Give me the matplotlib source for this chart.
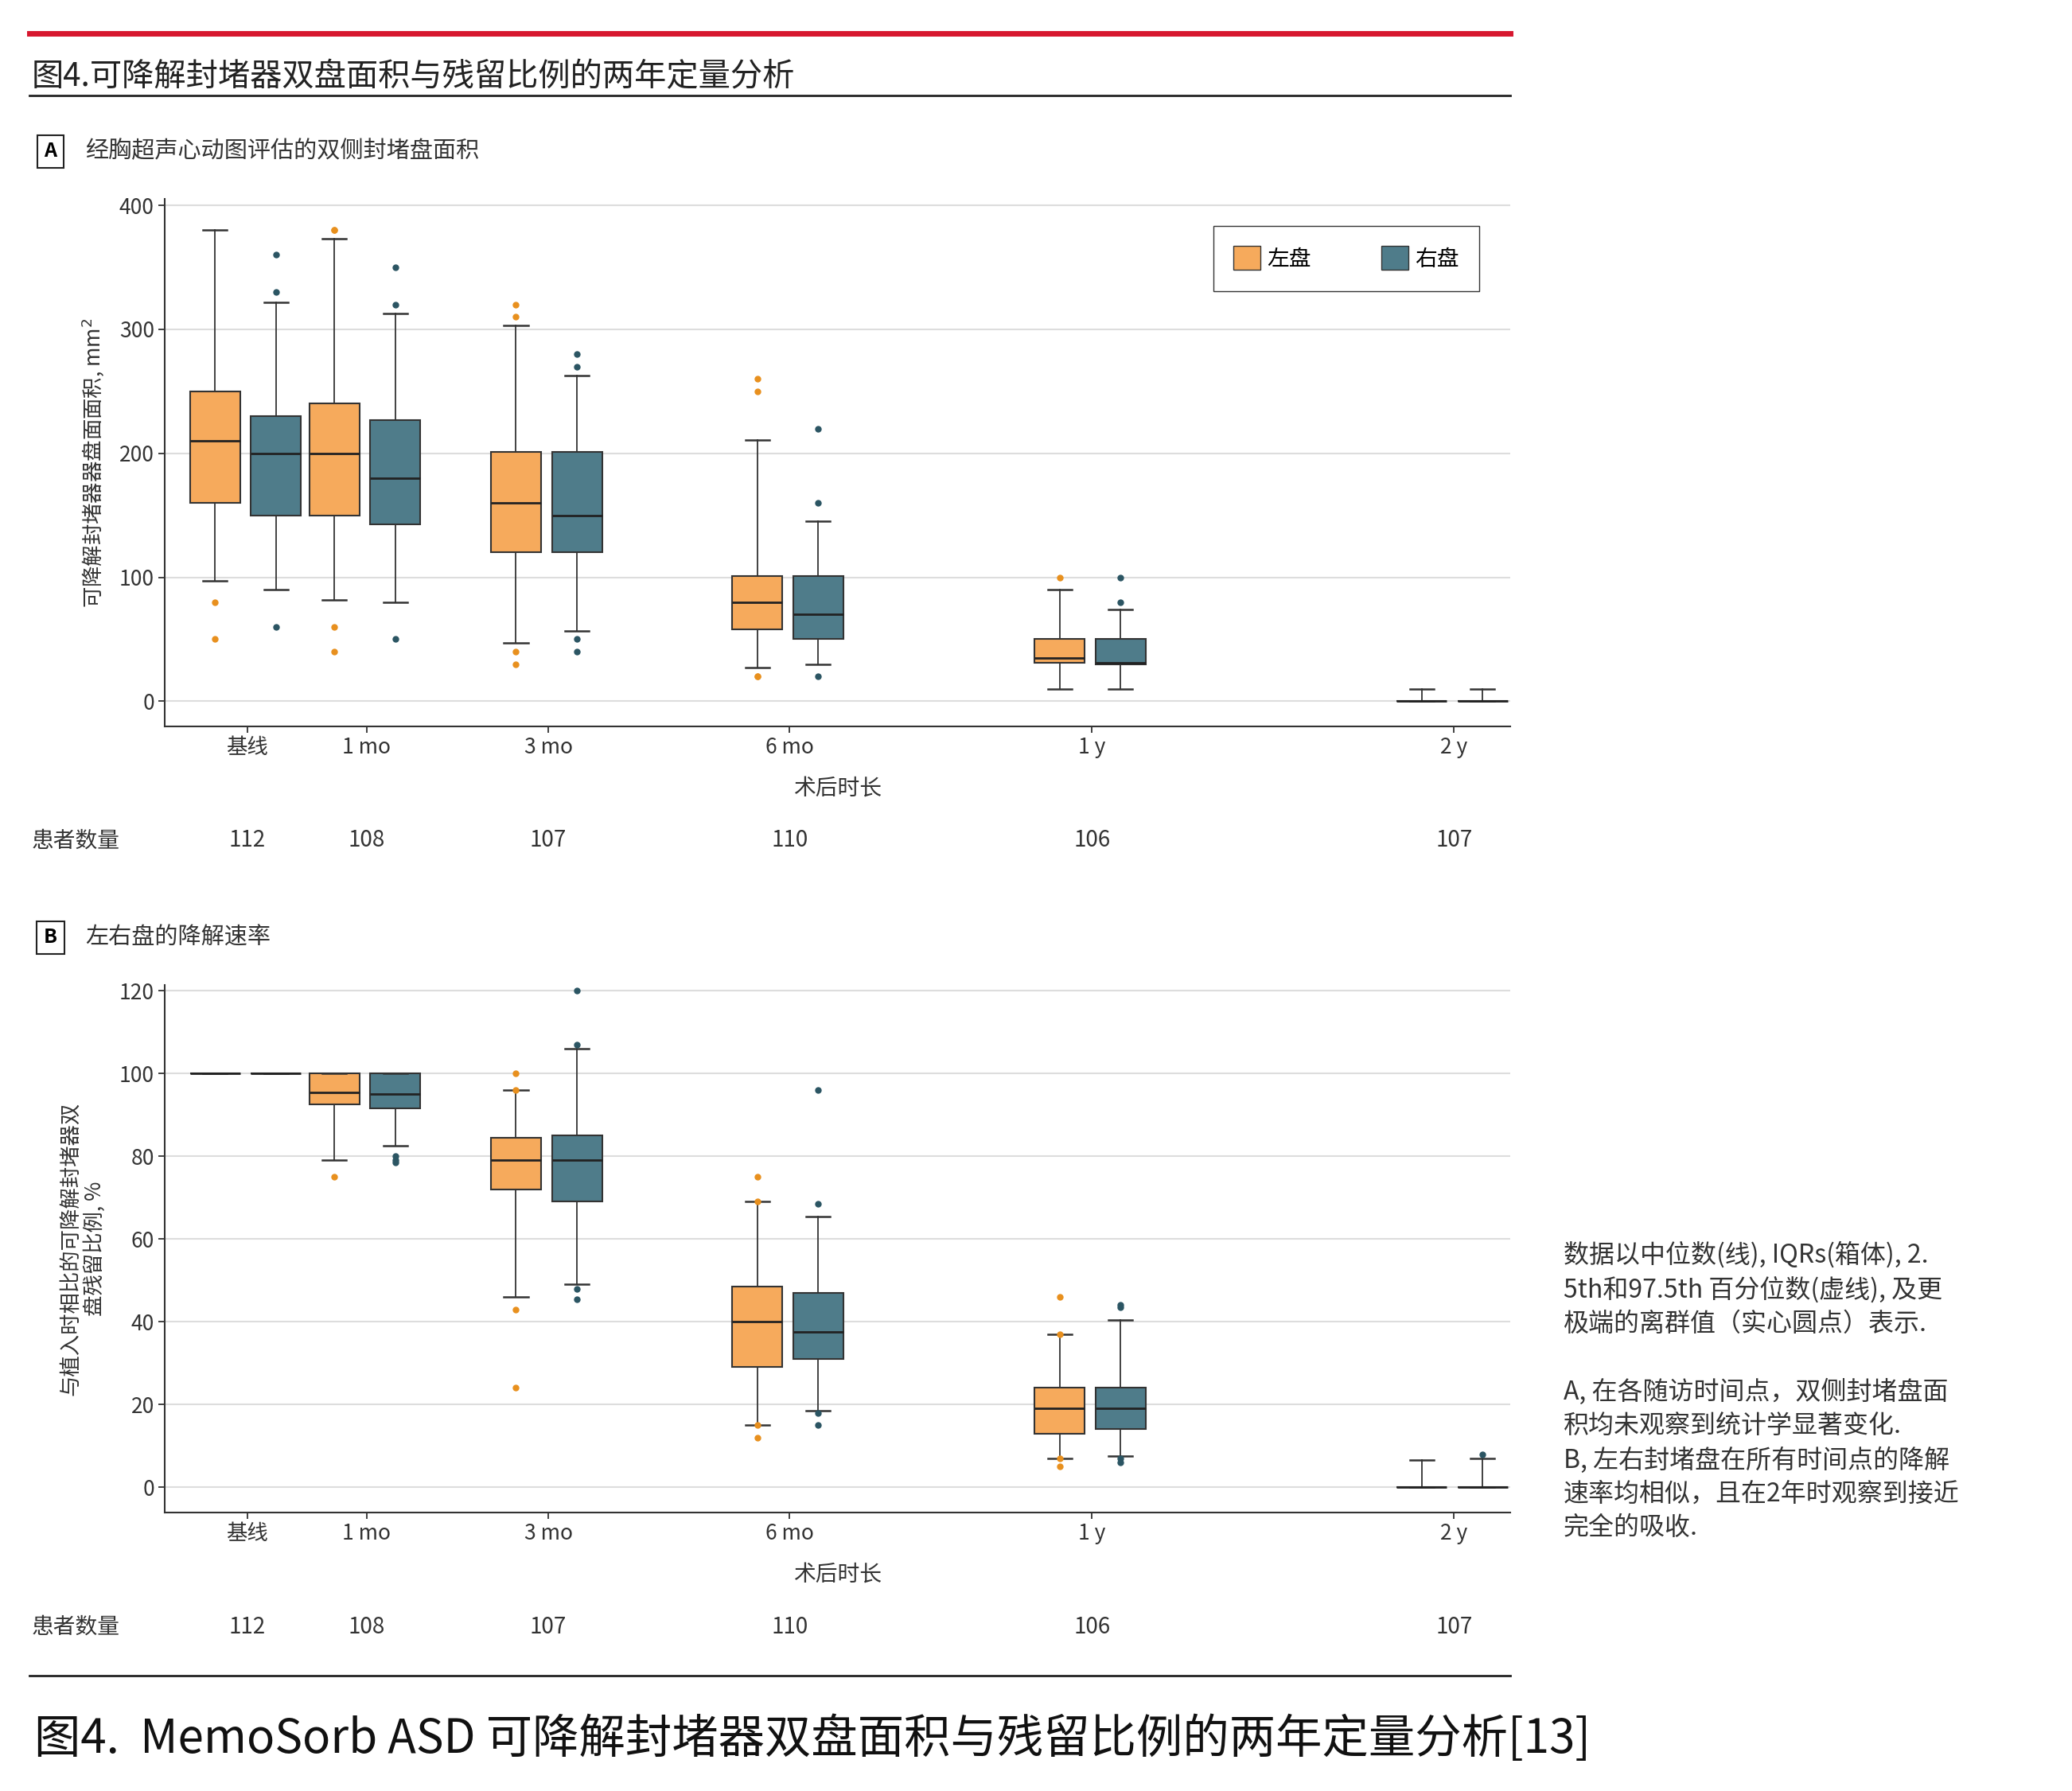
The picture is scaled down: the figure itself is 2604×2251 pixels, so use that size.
import matplotlib.pyplot as plt
from matplotlib.patches import Patch
from matplotlib.lines import Line2D

plt.rcParams['font.family'] = ['Noto Sans CJK SC', 'DejaVu Sans']

W, H = 1560.0, 1348.7  # layout units (reference scaled)

def fx(x):
    return x / W

def fy(y):
    return 1 - y / H

timepoints = ['基线', '1 mo', '3 mo', '6 mo', '1 y', '2 y']
patients = [112, 108, 107, 110, 106, 107]
xpos = [0, 1, 2.52, 4.54, 7.07, 10.1]

# (q1, med, q3, whislo, whishi, fliers)
area_left = [
    (160, 210, 250, 97, 380, [80, 50]),
    (150, 200, 240, 82, 373, [380, 380, 60, 40]),
    (120, 160, 201, 47, 303, [320, 310, 40, 30]),
    (58, 80, 101, 27, 211, [260, 250, 20, 20]),
    (31, 35, 50, 10, 90, [100]),
    (0, 0, 0, 0, 10, []),
]
area_right = [
    (150, 200, 230, 90, 322, [360, 330, 60]),
    (143, 180, 227, 80, 313, [350, 320, 50]),
    (120, 150, 201, 57, 263, [280, 270, 50, 40]),
    (50, 70, 101, 30, 145, [220, 160, 20]),
    (30, 31, 50, 10, 74, [100, 80]),
    (0, 0, 0, 0, 10, []),
]
pct_left = [
    (100, 100, 100, 100, 100, []),
    (92.5, 95.5, 100, 79, 100, [75]),
    (72, 79, 84.5, 46, 96, [100, 96, 43, 24]),
    (29, 40, 48.5, 15, 69, [75, 69, 15, 12]),
    (13, 19, 24, 7, 37, [46, 37, 7, 5]),
    (0, 0, 0, 0, 6.5, []),
]
pct_right = [
    (100, 100, 100, 100, 100, []),
    (91.5, 95, 100, 82.5, 100, [80, 79, 78.5]),
    (69, 79, 85, 49, 106, [120, 107, 48, 45.5]),
    (31, 37.5, 47, 18.5, 65.5, [96, 68.5, 18, 15]),
    (14, 19, 24, 7.5, 40.5, [44, 43.5, 7, 6]),
    (0, 0, 0, 0, 7, [8]),
]

ORANGE, TEAL = '#F6AA5C', '#4F7C8A'
ORANGE_PT, TEAL_PT = '#E8901E', '#2B5563'


def to_stats(rows):
    return [dict(q1=a, med=b, q3=c, whislo=d, whishi=e, fliers=f) for a, b, c, d, e, f in rows]


def draw_panel(ax, left, right, ylim, yticks):
    for rows, off, face, pt in [(left, -0.27, ORANGE, ORANGE_PT), (right, 0.24, TEAL, TEAL_PT)]:
        ax.bxp(to_stats(rows), positions=[p + off for p in xpos], widths=0.42,
               patch_artist=True, showfliers=True,
               boxprops=dict(facecolor=face, edgecolor='#333333', linewidth=1.5),
               medianprops=dict(color='#222222', linewidth=2),
               whiskerprops=dict(color='#333333', linewidth=1.3),
               capprops=dict(color='#333333', linewidth=1.8),
               capwidths=0.2,
               flierprops=dict(marker='o', markersize=5, markerfacecolor=pt,
                               markeredgecolor=pt))
    ax.set_xlim(-0.69, 10.57)
    ax.set_ylim(*ylim)
    ax.set_yticks(yticks)
    ax.set_xticks(xpos)
    ax.set_xticklabels(timepoints)
    ax.grid(axis='y', color='#dddddd', linewidth=1.5)
    ax.set_axisbelow(True)
    for s in ['top', 'right']:
        ax.spines[s].set_visible(False)
    for s in ['left', 'bottom']:
        ax.spines[s].set_linewidth(1.5)
        ax.spines[s].set_color('#333333')
    ax.tick_params(labelsize=19, colors='#333333', length=6, width=1.3)
    ax.set_xlabel('术后时长', fontsize=20, color='#333333', labelpad=16)


fig = plt.figure(figsize=(26.04, 22.51), dpi=100)

# header lines
fig.add_artist(Line2D([fx(22), fx(1137)], [fy(25), fy(25)], color='#D7172F', linewidth=5))
fig.text(fx(24), fy(58), '图4.可降解封堵器双盘面积与残留比例的两年定量分析', fontsize=29,
         va='center', color='#222222')
fig.add_artist(Line2D([fx(22), fx(1137)], [fy(72), fy(72)], color='#222222', linewidth=2))

# panel A
axA = fig.add_axes([fx(124), fy(547), fx(1137) - fx(124), fy(150) - fy(547)])
draw_panel(axA, area_left, area_right, (-20.3, 405), [0, 100, 200, 300, 400])
axA.set_ylabel('可降解封堵器器盘面面积, mm$^2$', fontsize=19, color='#333333', labelpad=12)
axA.legend(handles=[Patch(facecolor=ORANGE, edgecolor='#333333', label='左盘'),
                    Patch(facecolor=TEAL, edgecolor='#333333', label='右盘')],
           loc='upper right', bbox_to_anchor=(0.985, 0.97), ncol=2, fontsize=20,
           fancybox=False, edgecolor='#333333', framealpha=1, handlelength=1.2,
           handleheight=1.3, columnspacing=3.2, borderpad=0.9, handletextpad=0.3)

# panel B
axB = fig.add_axes([fx(124), fy(1139), fx(1137) - fx(124), fy(742) - fy(1139)])
draw_panel(axB, pct_left, pct_right, (-6.1, 121.3), [0, 20, 40, 60, 80, 100, 120])
axB.set_ylabel('与植入时相比的可降解封堵器双\n盘残留比例, %', fontsize=19, color='#333333',
               labelpad=12, linespacing=1.15)

# panel labels
for y, letter, txt in [(114, 'A', '经胸超声心动图评估的双侧封堵盘面积'), (706, 'B', '左右盘的降解速率')]:
    fig.text(fx(38), fy(y), letter, fontsize=18, fontweight='bold', ha='center', va='center',
             bbox=dict(boxstyle='square,pad=0.35', facecolor='white', edgecolor='#222222', linewidth=1.5))
    fig.text(fx(64), fy(y), txt, fontsize=21, va='center', color='#333333')

# patient counts
for yrow in [633, 1225]:
    fig.text(fx(24), fy(yrow), '患者数量', fontsize=20, va='center', color='#333333')
    for p, n in zip(xpos, patients):
        xd = axA.transData.transform((p, 0))[0] / fig.bbox.width
        fig.text(xd, fy(yrow), str(n), fontsize=20, va='center', ha='center', color='#333333')

# notes
notes = ('数据以中位数(线), IQRs(箱体), 2.\n5th和97.5th 百分位数(虚线), 及更\n极端的离群值（实心圆点）表示.\n\n'
         'A, 在各随访时间点，双侧封堵盘面\n积均未观察到统计学显著变化.\n'
         'B, 左右封堵盘在所有时间点的降解\n速率均相似，且在2年时观察到接近\n完全的吸收.')
fig.text(fx(1177), fy(935), notes, fontsize=23, va='top', color='#333333', linespacing=1.4)

# bottom
fig.add_artist(Line2D([fx(22), fx(1137)], [fy(1262), fy(1262)], color='#222222', linewidth=2))
fig.text(fx(26), fy(1310), '图4.  MemoSorb ASD 可降解封堵器双盘面积与残留比例的两年定量分析[13]',
         fontsize=42, va='center', color='#111111')

fig.savefig('out.png', dpi=100, facecolor='white')
